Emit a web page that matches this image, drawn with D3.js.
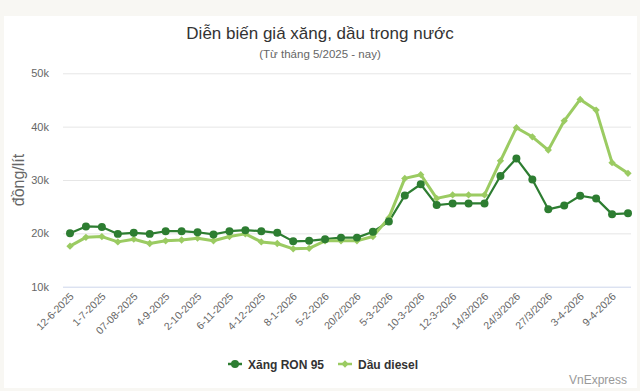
<!DOCTYPE html>
<html><head><meta charset="utf-8">
<script src="https://cdn.jsdelivr.net/npm/d3@7"></script>
<style>
html,body{margin:0;padding:0;background:#f8f7f3;}
svg{display:block;font-family:"Liberation Sans",Arial,Helvetica,sans-serif;}
</style></head>
<body>
<svg id="c" width="640" height="391"></svg>
<script>
const tickLabels = ["12-6-2025","1-7-2025","07-08-2025","4-9-2025","2-10-2025","6-11-2025","4-12-2025","8-1-2026","5-2-2026","20/2/2026","5-3-2026","10-3-2026","12-3-2026","14/3/2026","24/3/2026","27/3/2026","3-4-2026","9-4-2026"];
const ron95 = [20.0,21.3,21.2,19.9,20.1,19.9,20.4,20.4,20.2,19.8,20.4,20.6,20.4,20.1,18.5,18.6,18.9,19.2,19.2,20.3,22.2,27.1,29.2,25.3,25.6,25.6,25.6,30.75,34.05,30.1,24.5,25.2,27.05,26.55,23.6,23.75];
const diesel = [17.6,19.25,19.4,18.4,18.9,18.1,18.6,18.75,19.1,18.6,19.4,19.9,18.4,18.1,17.1,17.2,18.6,18.6,18.6,19.4,22.9,30.3,31.0,26.55,27.2,27.2,27.2,33.6,39.8,38.1,35.6,41.1,45.1,43.1,33.25,31.25];
const yTicks = [10,20,30,40,50];
const seriesNames = ["Xăng RON 95","Dầu diesel"];
const colors = ["#2d7d31","#9bcb62"];

const svg = d3.select("#c");
svg.append("rect").attr("x",4).attr("y",16).attr("width",633).attr("height",372).attr("fill","#fff");

const idx = d3.range(ron95.length);
const x = d3.scalePoint().domain(idx).range([70,628]);
const y = d3.scaleLinear().domain([10,50]).range([286.7,73.3]);

// grid
const gy = svg.append("g").attr("transform","translate(63,0)")
  .call(d3.axisLeft(y).tickValues(yTicks).tickSize(-568).tickFormat(d=>d+"k"));
gy.select(".domain").remove();
gy.selectAll(".tick line").attr("stroke",d=>d===10?"#ccd6eb":"#e6e6e6");
gy.selectAll(".tick text").attr("x",-14).attr("fill","#666").attr("font-size","11px");

// x axis labels
const gx = svg.append("g").attr("transform","translate(0,287)")
  .call(d3.axisBottom(x).tickValues(idx.filter(i=>i%2===0)).tickSize(0).tickFormat(i=>tickLabels[i/2]));
gx.select(".domain").remove();
gx.selectAll(".tick text").attr("fill","#666").attr("font-size","10.5px")
  .attr("text-anchor","end").attr("dy",0).attr("y",0)
  .attr("transform","translate(4,10) rotate(-45)");

// titles
svg.append("text").attr("x",320).attr("y",39).attr("text-anchor","middle").attr("font-size","17px").attr("fill","#333").text("Diễn biến giá xăng, dầu trong nước");
svg.append("text").attr("x",320).attr("y",58).attr("text-anchor","middle").attr("font-size","11.5px").attr("fill","#666").text("(Từ tháng 5/2025 - nay)");
svg.append("text").attr("transform","translate(24,180) rotate(-90)").attr("text-anchor","middle").attr("font-size","16px").attr("fill","#666").text("đồng/lít");

// lines
const line = d3.line().x((d,i)=>x(i)).y(d=>y(d));
const data = [ron95, diesel];
const widths = [2.2, 3];
data.forEach((s,k)=>{
  svg.append("path").datum(s).attr("d",line).attr("fill","none").attr("stroke",colors[k]).attr("stroke-width",widths[k]).attr("stroke-linejoin","round");
});
// markers
const circ = d3.symbol().type(d3.symbolCircle).size(50);
const diam = d3.symbol().type(d3.symbolDiamond2).size(34);
svg.append("g").selectAll("path").data(diesel).join("path")
  .attr("d",diam).attr("transform",(d,i)=>`translate(${x(i)},${y(d)})`).attr("fill",colors[1]);
svg.append("g").selectAll("path").data(ron95).join("path")
  .attr("d",circ).attr("transform",(d,i)=>`translate(${x(i)},${y(d)})`).attr("fill",colors[0]);

// legend
const lg = [{x:228,k:0,sym:circ},{x:338,k:1,sym:diam}];
lg.forEach(o=>{
  svg.append("line").attr("x1",o.x).attr("x2",o.x+14).attr("y1",364).attr("y2",364).attr("stroke",colors[o.k]).attr("stroke-width",2.5);
  svg.append("path").attr("d",o.sym).attr("transform",`translate(${o.x+7},364)`).attr("fill",colors[o.k]);
  svg.append("text").attr("x",o.x+20).attr("y",368.5).attr("font-size","12px").attr("font-weight","bold").attr("fill","#333").text(seriesNames[o.k]);
});
svg.append("text").attr("x",627).attr("y",384).attr("text-anchor","end").attr("font-size","12px").attr("fill","#999").text("VnExpress");
</script>
</body></html>
